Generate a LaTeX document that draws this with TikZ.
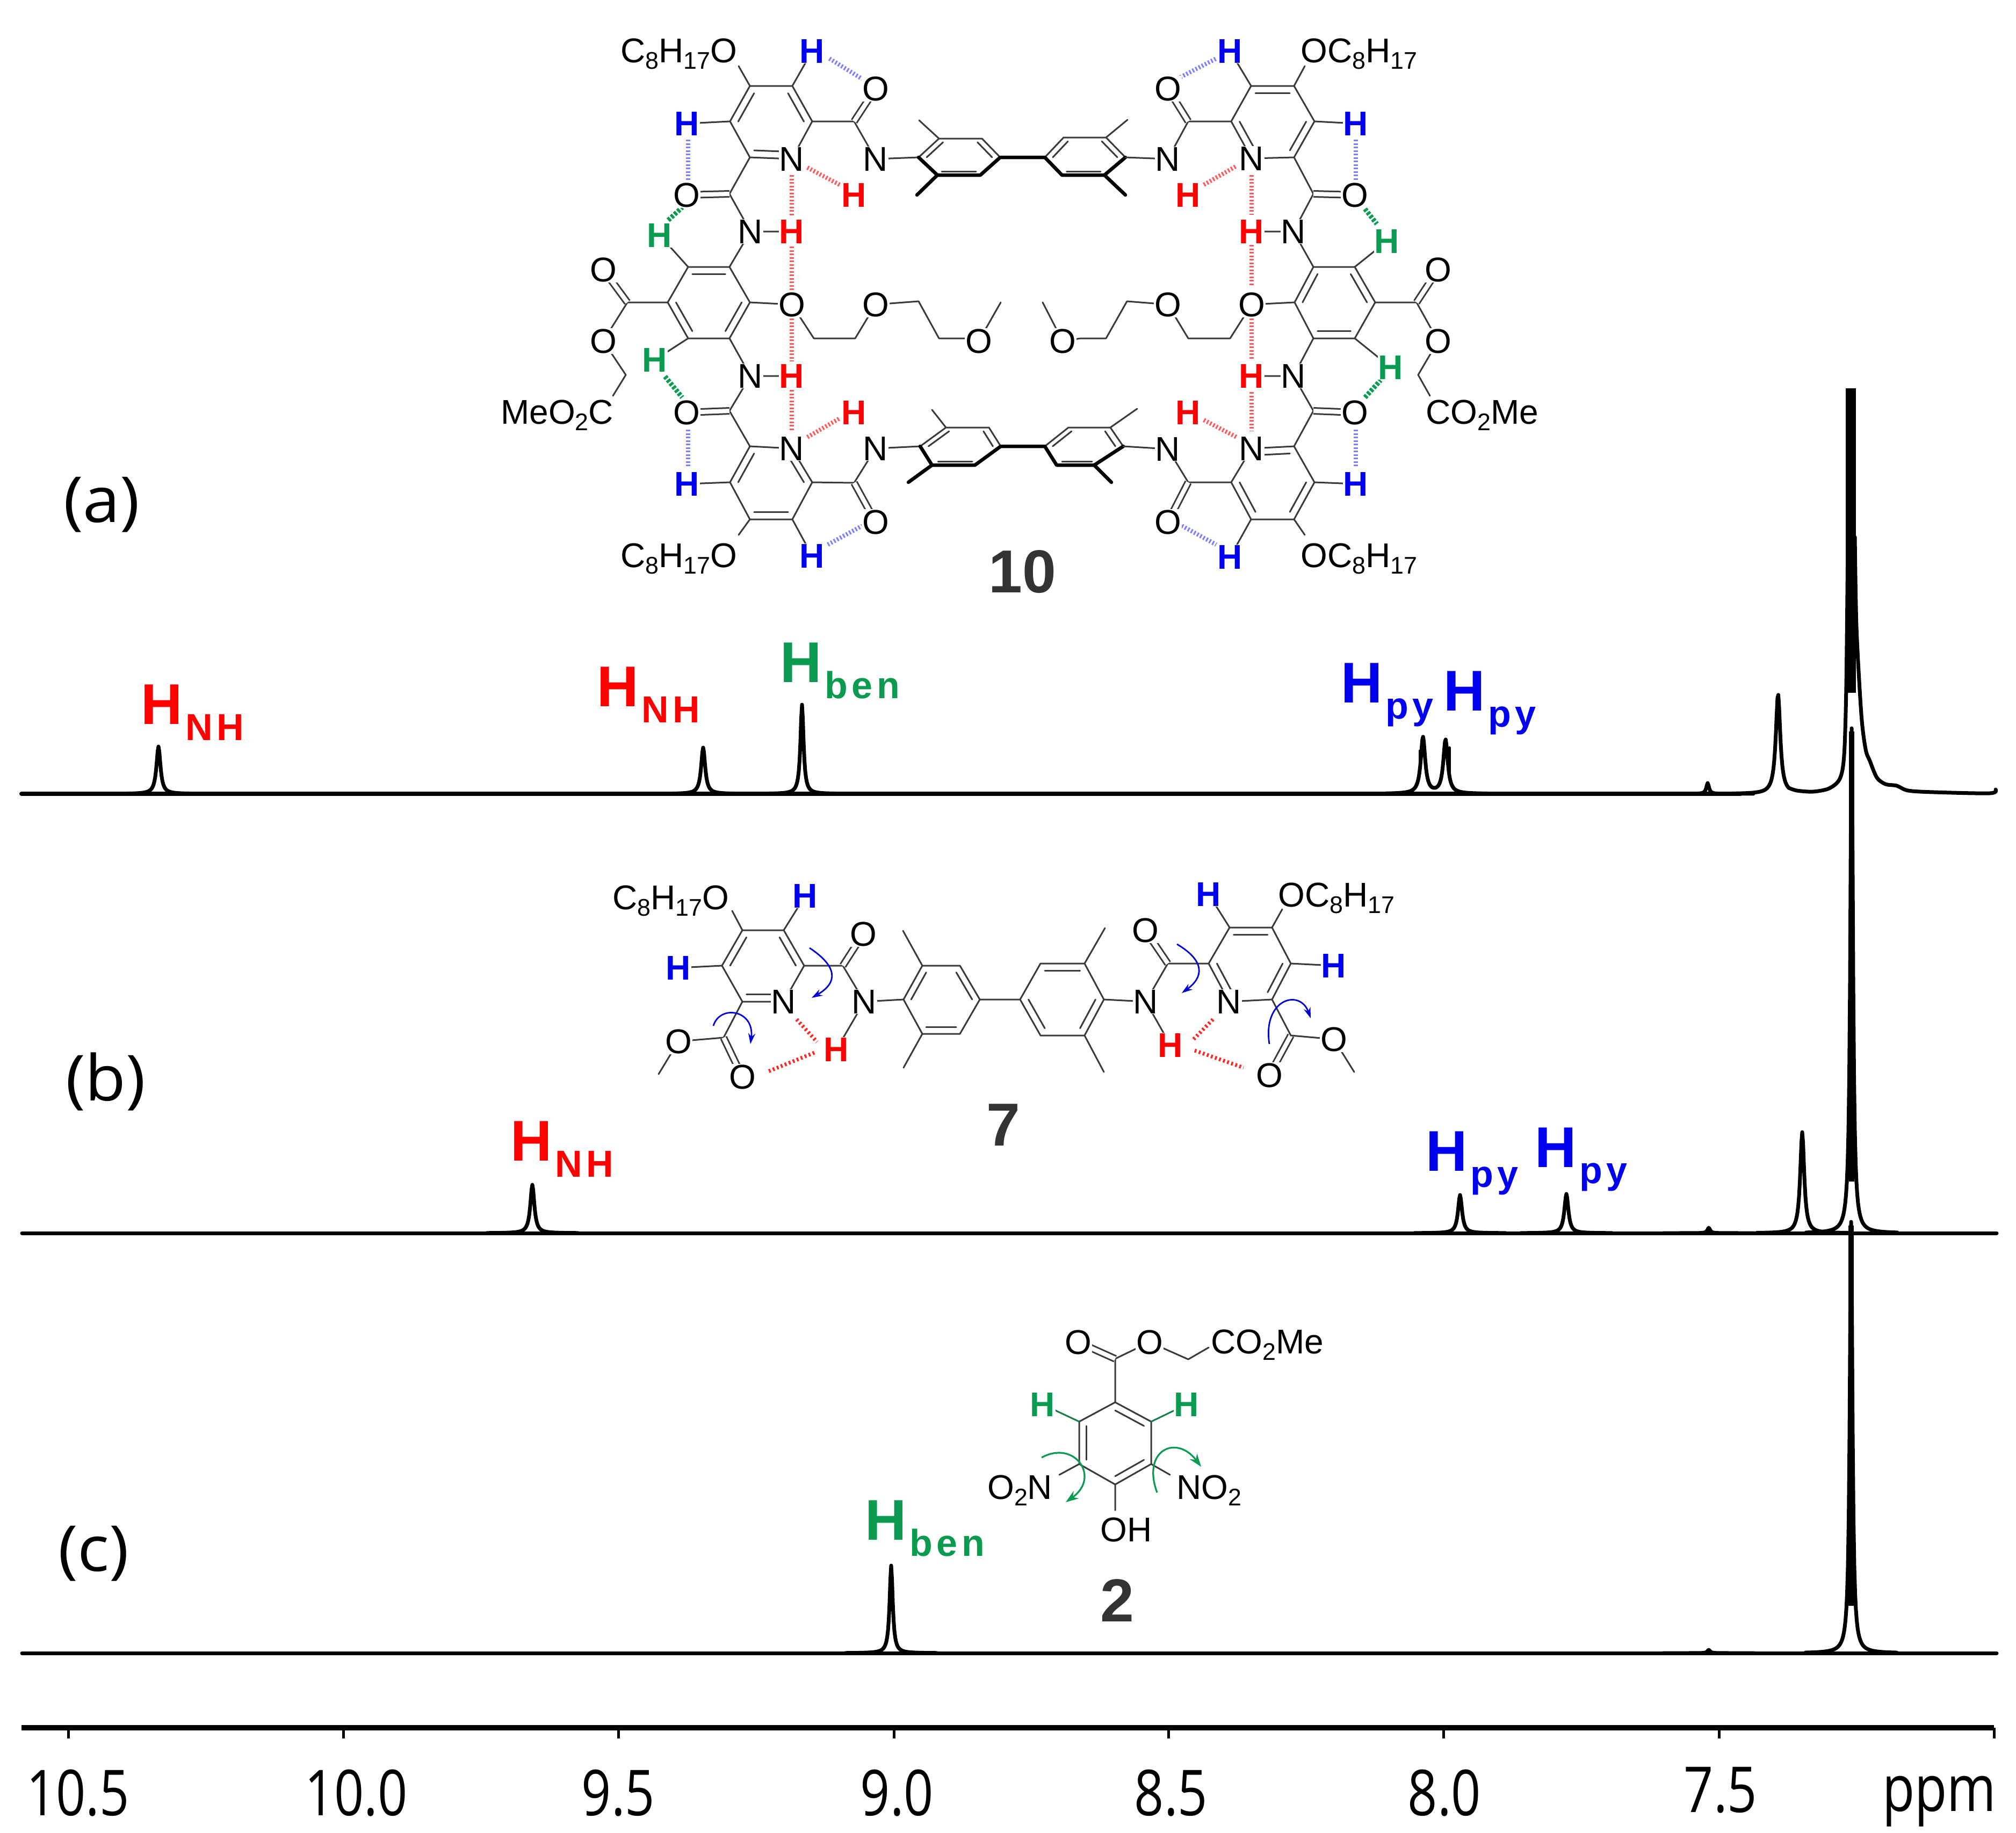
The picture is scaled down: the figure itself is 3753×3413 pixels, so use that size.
\documentclass[tikz,border=0pt]{standalone}
\usepackage{graphicx}
\usepackage{fontspec}
\setmainfont{Liberation Sans}
\newfontfamily\axf[FakeStretch=.82]{Open Sans}
\newfontfamily\plab[FakeStretch=1.05]{Open Sans}
\newfontfamily\subf[LetterSpace=11]{Liberation Sans Bold}
\usetikzlibrary{calc,arrows.meta}
\definecolor{bondc}{HTML}{3A3A3A}
\definecolor{hred}{HTML}{FF0000}
\definecolor{hblue}{HTML}{0000F0}
\definecolor{hgreen}{HTML}{0A9A50}
\definecolor{numc}{HTML}{333333}
\newcounter{nd}
\newcommand\sbs[1]{\raisebox{-.2em}{\scalebox{.7}{#1}}}
\newcommand\A[4][atom]{\stepcounter{nd}\node[#1] (n\arabic{nd}) at (#2,#3) {#4};}
\newcommand\T[3]{\stepcounter{nd}\node[chain] (n\arabic{nd}) at (#1,#2) {#3};}
\newcommand\indb[3]{\draw[bond] ($(#1)!.2!(#3)$) -- ($(#2)!.2!(#3)$);}
\newcommand\HL[4]{\stepcounter{nd}\node[hlab,text=#1] (n\arabic{nd}) at (#2,#3) {H\kern6pt\raisebox{-30pt}{\fontsize{70}{72}\subf #4}};}
\newcommand\peak[4]{\pgfmathsetmacro\pa{#1-85}\pgfmathsetmacro\pb{#1+85}%
  \draw[spec] plot[domain=\pa:\pb,samples=115] (\x,{#3-(#3-#2)/(1+(\x-#1)*(\x-#1)/(#4*#4))});}
\tikzset{
  bond/.style={draw=bondc,line width=3pt,line cap=round,line join=round},
  bold/.style={draw=black,line width=6.5pt,line cap=round,line join=round},
  dbond/.style={draw=bondc,line width=3pt,double=white,double distance=8pt},
  atom/.style={font=\fontsize{64}{70}\selectfont,inner sep=1pt,fill=white,text=black},
  chain/.style={font=\fontsize{64}{70}\selectfont,inner sep=0pt,anchor=base west,text=black},
  hb/.style={atom,font=\fontsize{64}{70}\selectfont\bfseries,text=hblue},
  hr/.style={atom,font=\fontsize{64}{70}\selectfont\bfseries,text=hred},
  hg/.style={atom,font=\fontsize{64}{70}\selectfont\bfseries,text=hgreen},
  rdash/.style={draw=red!65!white,line width=8pt,dash pattern=on 3pt off 3.5pt},
  rdash2/.style={draw=red!85!white,line width=7pt,dash pattern=on 3.5pt off 4.5pt},
  bdash/.style={draw=blue!50!white,line width=8pt,dash pattern=on 3pt off 3.5pt},
  gdash/.style={draw=hgreen,line width=9pt,dash pattern=on 5pt off 3pt},
  barr/.style={draw=blue!85!black,line width=2.8pt,-{Stealth[length=20pt,width=13pt]}},
  garr/.style={draw=hgreen,line width=3.2pt,-{Stealth[length=24pt,width=17pt]}},
  spec/.style={draw=black,line width=7pt,line join=round,line cap=round},
  hlab/.style={font=\fontsize{107}{110}\selectfont\bfseries,inner sep=0pt,anchor=base west},
  num/.style={font=\fontsize{113}{120}\selectfont\bfseries,text=numc,inner sep=0pt},
  axl/.style={font=\fontsize{118}{125}\selectfont\axf,inner sep=0pt,anchor=base},
  pl/.style={font=\fontsize{118}{125}\selectfont\plab,inner sep=0pt,anchor=base west}
}
\begin{document}
\begin{tikzpicture}[x=1pt,y=-1pt]
\useasboundingbox (0,0) rectangle (3753,3413);
\fill[white] (0,0) rectangle (3753,3413);
%% ---------------- spectra
% (a)
\draw[spec,line width=8pt] (40,1478) -- (3240,1478);
\peak{295}{1390}{1478}{4.5}
\peak{1309}{1392}{1478}{4.5}
\peak{1493}{1312}{1478}{3.5}
\peak{3179}{1458}{1478}{3}
\draw[spec] plot[domain=2580:2770,samples=141] (\x,{1478-105/(1+(\x-2649)*(\x-2649)/25)-100/(1+(\x-2691)*(\x-2691)/25)});
\draw[spec,line width=5pt] (2643,1398)--(2643,1440);
\draw[spec,line width=5pt] (2698,1392)--(2698,1440);
\draw[spec] plot[domain=3225:3330,samples=71] (\x,{1478-186/(1+(\x-3310)*(\x-3310)/25)});
\draw[spec] plot[smooth,tension=.5] coordinates {(3330,1467)(3345,1472)(3375,1474)(3405,1468)(3425,1450)(3433,1406)(3437,1276)(3440,1000)};
\fill[black] (3436,723) rectangle (3455,1290);
\draw[spec] plot[smooth,tension=.5] coordinates {(3453,1000)(3456,1168)(3465,1330)(3473,1395)(3481,1417)(3494,1448)(3510,1460)(3531,1463)(3552,1472)(3600,1475)(3704,1477)(3715,1470)};
% (b)
\draw[spec] (41,2296) -- (3717,2296);
\peak{991}{2206}{2296}{4.5}
\peak{2718}{2225}{2296}{4.5}
\peak{2916}{2223}{2296}{4.5}
\peak{3181}{2286}{2296}{3}
\peak{3355}{2108}{2296}{4.5}
\peak{3447}{1356}{2296}{3}
\fill[black] (3442,1362) rectangle (3452,2200);
% (c)
\draw[spec] (41,3078) -- (3717,3078);
\peak{1659}{2915}{3078}{3.5}
\peak{3181}{3072}{3078}{3}
\peak{3446}{2275}{3078}{3}
\fill[black] (3441,2282) rectangle (3451,2990);
%% ---------------- axis
\draw[line width=10pt] (40,3217) -- (3712,3217);
\foreach \px in {127,639,1151,1664,2175,2687,3200,3712}
  \draw[line width=5pt] (\px,3217) -- (\px,3237);
\node[axl] (t105) at (145,3380) {10.5};
\node[axl] (t100) at (663,3380) {10.0};
\node[axl] (t95) at (1151,3380) {9.5};
\node[axl] (t90) at (1670,3380) {9.0};
\node[axl] (t85) at (2180,3380) {8.5};
\node[axl] (t80) at (2689,3380) {8.0};
\node[axl] (t75) at (3203,3374) {7.5};
\node[font=\fontsize{120}{125}\selectfont\axf,inner sep=0pt,anchor=base west] (tppm) at (3504,3372) {ppm};
\node[pl] (la) at (118,972) {(a)};
\node[pl] (lb) at (122,2049) {(b)};
\node[pl] (lc) at (108,2925) {(c)};
%% ---------------- peak labels
\HL{hred}{262}{1348}{NH}
\HL{hred}{1111}{1315}{NH}
\HL{hgreen}{1452}{1270}{ben}
\HL{hblue}{2496}{1308}{py}
\HL{hblue}{2687}{1323}{py}
\HL{hred}{950}{2161}{NH}
\HL{hblue}{2654}{2180}{py}
\HL{hblue}{2857}{2173}{py}
\HL{hgreen}{1610}{2867}{ben}
%% ---------------- molecule 10, bonds
% top-left pyridine
\draw[bond] (1396,160)--(1475,160)--(1512,226)--(1474,296)--(1396,293)--(1359,226)--cycle;
\indb{1396,160}{1359,226}{1435,228}\indb{1475,160}{1512,226}{1435,228}\indb{1396,293}{1474,296}{1435,228}
\draw[bond] (1396,160)--(1375,123) (1475,160)--(1512,95) (1359,226)--(1279,230) (1396,293)--(1358,361)
  (1358,361)--(1397,431)--(1358,497) (1397,431)--(1474,431) (1512,226)--(1590,226)--(1630,296)--(1710,293);
\draw[dbond] (1358,361)--(1278,363) (1590,226)--(1630,165);
% top-left aryl
\draw[bond] (1710,293)--(1748,258)--(1828,258)--(1862,293) (1748,258)--(1711,224);
\indb{1745,326}{1825,326}{1786,292}\indb{1710,293}{1748,258}{1786,292}\indb{1828,258}{1862,293}{1786,292}
\draw[bold] (1710,293)--(1745,326)--(1825,326)--(1862,293)--(1945,293) (1745,326)--(1707,363);
% top-right aryl
\draw[bond] (2095,293)--(2059,256)--(1980,256)--(1945,293) (2059,256)--(2099,223);
\indb{1977,326}{2056,326}{2020,292}\indb{2095,293}{2059,256}{2020,292}\indb{1980,256}{1945,293}{2020,292}
\draw[bold] (1945,293)--(1977,326)--(2056,326)--(2095,293) (2056,326)--(2095,363);
% top-right pyridine
\draw[bond] (2329,160)--(2409,160)--(2447,226)--(2409,293)--(2330,295)--(2292,226)--cycle;
\indb{2329,160}{2409,160}{2370,228}\indb{2447,226}{2409,293}{2370,228}\indb{2292,226}{2330,295}{2370,228}
\draw[bond] (2329,160)--(2290,95) (2409,160)--(2429,123) (2447,226)--(2524,230) (2409,293)--(2445,361)
  (2445,361)--(2408,431)--(2445,497) (2408,431)--(2330,431) (2292,226)--(2212,226)--(2174,296)--(2095,293);
\draw[dbond] (2445,361)--(2522,363) (2212,226)--(2174,165);
% left benzene
\draw[bond] (1281,497)--(1358,497)--(1396,563)--(1358,630)--(1281,630)--(1243,563)--cycle;
\indb{1281,497}{1358,497}{1320,563}\indb{1396,563}{1358,630}{1320,563}\indb{1281,630}{1243,563}{1320,563}
\draw[bond] (1281,497)--(1228,438) (1281,630)--(1219,670) (1396,563)--(1474,567) (1358,630)--(1397,700)--(1358,765)--(1396,831) (1397,700)--(1474,700)
  (1243,563)--(1168,563)--(1123,635)--(1165,698)--(1141,737)
  (1474,567)--(1515,630)--(1592,630)--(1630,567)--(1710,561)--(1748,630)--(1796,630)--(1822,635)--(1863,563);
\draw[dbond] (1168,563)--(1123,502) (1358,765)--(1278,768);
% right benzene
\draw[bond] (2445,497)--(2522,497)--(2560,563)--(2522,630)--(2445,630)--(2410,563)--cycle;
\indb{2445,497}{2410,563}{2484,563}\indb{2522,497}{2560,563}{2484,563}\indb{2522,630}{2445,630}{2484,563}
\draw[bond] (2522,497)--(2582,449) (2522,630)--(2589,684) (2410,563)--(2330,567) (2445,630)--(2408,700)--(2445,765)--(2409,831) (2408,700)--(2330,700)
  (2560,563)--(2637,563)--(2677,635)--(2640,698)--(2662,737)
  (2330,567)--(2290,630)--(2212,630)--(2174,567)--(2098,561)--(2059,630)--(2012,630)--(1978,635)--(1941,563);
\draw[dbond] (2637,563)--(2677,502) (2445,765)--(2522,768);
% bottom-left pyridine
\draw[bond] (1396,831)--(1474,835)--(1512,898)--(1475,967)--(1396,967)--(1359,898)--cycle;
\indb{1396,831}{1359,898}{1435,898}\indb{1475,967}{1396,967}{1435,898}\indb{1474,835}{1512,898}{1435,898}
\draw[bond] (1396,967)--(1375,996) (1475,967)--(1512,1035) (1359,898)--(1279,901)
  (1512,898)--(1590,899)--(1630,835)--(1713,831);
\draw[dbond] (1590,899)--(1630,972);
% bottom-left aryl
\draw[bond] (1713,831)--(1761,796)--(1841,796)--(1863,831) (1761,796)--(1735,763);
\indb{1735,866}{1815,866}{1790,831}\indb{1713,831}{1761,796}{1790,831}\indb{1841,796}{1863,831}{1790,831}
\draw[bold] (1713,831)--(1735,866)--(1815,866)--(1863,831)--(1945,831) (1735,866)--(1691,898);
% bottom-right aryl
\draw[bond] (1945,831)--(1989,796)--(2067,796)--(2091,831) (2067,796)--(2117,761);
\indb{1967,866}{2037,866}{2018,831}\indb{2091,831}{2067,796}{2018,831}\indb{1989,796}{1945,831}{2018,831}
\draw[bold] (1945,831)--(1967,866)--(2037,866)--(2091,831) (2037,866)--(2069,898);
% bottom-right pyridine
\draw[bond] (2330,835)--(2409,831)--(2447,898)--(2409,967)--(2329,967)--(2292,898)--cycle;
\indb{2330,835}{2409,831}{2370,898}\indb{2292,898}{2329,967}{2370,898}\indb{2447,898}{2409,967}{2370,898}
\draw[bond] (2409,967)--(2429,996) (2329,967)--(2290,1037) (2447,898)--(2524,901)
  (2292,898)--(2212,898)--(2174,836)--(2091,831);
\draw[dbond] (2212,898)--(2174,972);
%% hydrogen bonds of 10
\draw[rdash] (1503,312)--(1563,344);
\draw[rdash] (1474,326)--(1474,403);
\draw[rdash] (1474,459)--(1474,544);
\draw[rdash] (1474,593)--(1474,673);
\draw[rdash] (1474,726)--(1474,803);
\draw[rdash] (1503,814)--(1563,779);
\draw[rdash] (2241,344)--(2302,309);
\draw[rdash] (2330,326)--(2330,400);
\draw[rdash] (2330,456)--(2330,533);
\draw[rdash] (2330,593)--(2330,670);
\draw[rdash] (2330,730)--(2330,803);
\draw[rdash] (2241,782)--(2302,814);
\draw[bdash] (1544,109)--(1605,147);
\draw[bdash] (1281,260)--(1281,337);
\draw[bdash] (1281,800)--(1281,870);
\draw[bdash] (1541,1014)--(1605,979);
\draw[bdash] (2197,144)--(2264,109);
\draw[bdash] (2524,260)--(2524,337);
\draw[bdash] (2524,800)--(2524,870);
\draw[bdash] (2200,979)--(2264,1014);
\draw[gdash] (1244,410)--(1270,386);
\draw[gdash] (1238,701)--(1270,740);
\draw[gdash] (2541,389)--(2563,417);
\draw[gdash] (2541,740)--(2570,708);
%% labels of 10
\T{1155}{116}{C\sbs{8}H\sbs{17}O}
\T{2421}{116}{OC\sbs{8}H\sbs{17}}
\T{1155}{1056}{C\sbs{8}H\sbs{17}O}
\T{2421}{1056}{OC\sbs{8}H\sbs{17}}
\T{932}{789}{MeO\sbs{2}C}
\T{2654}{789}{CO\sbs{2}Me}
\A[hb]{1512}{95}{H}\A[hb]{1279}{230}{H}\A[hb]{1279}{901}{H}\A[hb]{1512}{1035}{H}
\A[hb]{2290}{95}{H}\A[hb]{2524}{230}{H}\A[hb]{2524}{901}{H}\A[hb]{2290}{1037}{H}
\A[hr]{1590}{363}{H}\A[hr]{1474}{431}{H}\A[hr]{1474}{700}{H}\A[hr]{1590}{768}{H}
\A[hr]{2212}{363}{H}\A[hr]{2330}{431}{H}\A[hr]{2330}{700}{H}\A[hr]{2212}{768}{H}
\A[hg]{1228}{438}{H}\A[hg]{1219}{670}{H}\A[hg]{2582}{449}{H}\A[hg]{2589}{684}{H}
\A{1630}{165}{O}\A{1278}{363}{O}\A{1278}{768}{O}\A{1630}{972}{O}
\A{2174}{165}{O}\A{2522}{363}{O}\A{2522}{768}{O}\A{2174}{972}{O}
\A{1123}{502}{O}\A{1123}{635}{O}\A{2677}{502}{O}\A{2677}{635}{O}
\A{1474}{567}{O}\A{1630}{567}{O}\A{1822}{635}{O}\A{2330}{567}{O}\A{2174}{567}{O}\A{1978}{635}{O}
\A{1474}{296}{N}\A{1630}{296}{N}\A{1397}{431}{N}\A{1397}{700}{N}\A{1474}{835}{N}\A{1630}{835}{N}
\A{2330}{295}{N}\A{2174}{296}{N}\A{2408}{431}{N}\A{2408}{700}{N}\A{2330}{835}{N}\A{2174}{836}{N}
\node[num] (mol10) at (1903,1065) {10};
%% ---------------- molecule 7
\draw[bond] (1382,1732)--(1459,1732)--(1497,1798)--(1459,1865)--(1382,1865)--(1344,1798)--cycle;
\indb{1382,1732}{1344,1798}{1420,1798}\indb{1459,1732}{1497,1798}{1420,1798}\indb{1382,1865}{1459,1865}{1420,1798}
\draw[bond] (1382,1732)--(1363,1696) (1459,1732)--(1499,1668) (1344,1798)--(1263,1802) (1497,1798)--(1569,1798)--(1609,1865)--(1682,1861) (1609,1865)--(1557,1954)
  (1382,1865)--(1347,1932)--(1263,1939)--(1226,2000);
\draw[dbond] (1569,1798)--(1607,1739) (1347,1932)--(1382,2005);
\draw[bond] (1682,1861)--(1717,1798)--(1787,1798)--(1824,1861)--(1787,1925)--(1717,1925)--cycle;
\indb{1682,1861}{1717,1798}{1753,1861}\indb{1787,1798}{1824,1861}{1753,1861}\indb{1787,1925}{1717,1925}{1753,1861}
\draw[bond] (1717,1798)--(1681,1733) (1717,1925)--(1682,1988) (1824,1861)--(1899,1861);
\draw[bond] (1899,1861)--(1937,1794)--(2019,1794)--(2055,1861)--(2019,1928)--(1937,1928)--cycle;
\indb{1937,1794}{2019,1794}{1977,1861}\indb{1899,1861}{1937,1928}{1977,1861}\indb{2055,1861}{2019,1928}{1977,1861}
\draw[bond] (2019,1794)--(2057,1728) (2019,1928)--(2055,1996) (2055,1861)--(2133,1865)--(2174,1794)--(2250,1794) (2133,1865)--(2179,1946);
\draw[dbond] (2174,1794)--(2132,1732) (2403,1928)--(2363,2002);
\draw[bond] (2250,1794)--(2289,1727)--(2368,1727)--(2403,1794)--(2368,1861)--(2288,1865)--cycle;
\indb{2289,1727}{2368,1727}{2327,1794}\indb{2403,1794}{2368,1861}{2327,1794}\indb{2250,1794}{2288,1865}{2327,1794}
\draw[bond] (2289,1727)--(2250,1665) (2368,1727)--(2387,1693) (2403,1794)--(2483,1798) (2368,1861)--(2403,1928)--(2483,1935)--(2521,1996);
\draw[rdash2] (1483,1898)--(1521,1940);
\draw[rdash2] (1516,1960)--(1430,1995);
\draw[rdash2] (2258,1898)--(2220,1937);
\draw[rdash2] (2224,1956)--(2315,1988);
\T{1140}{1693}{C\sbs{8}H\sbs{17}O}
\T{2379}{1688}{OC\sbs{8}H\sbs{17}}
\A[hb]{1499}{1668}{H}\A[hb]{1263}{1802}{H}\A[hb]{2250}{1665}{H}\A[hb]{2483}{1798}{H}
\A[hr]{1557}{1954}{H}\A[hr]{2179}{1946}{H}
\A{1607}{1739}{O}\A{1263}{1939}{O}\A{1382}{2005}{O}\A{2132}{1732}{O}\A{2483}{1935}{O}\A{2363}{2002}{O}
\A{1459}{1865}{N}\A{1609}{1865}{N}\A{2133}{1865}{N}\A{2288}{1865}{N}
\draw[barr] (1507,1765) .. controls (1560,1800) and (1560,1830) .. (1511,1858);
\draw[barr] (1328,1910) .. controls (1340,1870) and (1405,1880) .. (1397,1944);
\draw[barr] (2191,1758) .. controls (2245,1790) and (2240,1820) .. (2200,1849);
\draw[barr] (2363,1944) .. controls (2350,1860) and (2420,1840) .. (2440,1896);
\node[num] (mol7) at (1868,2095) {7};
%% ---------------- molecule 2
\draw[bond] (2076,2611)--(2143,2647)--(2143,2726)--(2076,2764)--(2009,2726)--(2009,2647)--cycle;
\indb{2076,2611}{2143,2647}{2076,2687}\indb{2143,2726}{2076,2764}{2076,2687}\indb{2009,2726}{2009,2647}{2076,2687}
\draw[bond] (2076,2611)--(2076,2530)--(2140,2499)--(2212,2531)--(2250,2509) (2009,2726)--(1972,2746) (2143,2726)--(2178,2746) (2076,2764)--(2076,2812);
\draw[dbond] (2076,2530)--(2007,2499);
\draw[bond,draw=hgreen!70!bondc] (2009,2647)--(1941,2615) (2143,2647)--(2209,2615);
\A{2007}{2499}{O}\A{2140}{2499}{O}
\T{2254}{2520}{CO\sbs{2}Me}
\T{1838}{2791}{O\sbs{2}N}
\T{2190}{2791}{NO\sbs{2}}
\T{2048}{2870}{OH}
\A[hg]{1941}{2615}{H}\A[hg]{2209}{2615}{H}
\draw[garr] (1939,2714) .. controls (2000,2680) and (2050,2750) .. (1984,2797);
\draw[garr] (2154,2779) .. controls (2125,2700) and (2190,2670) .. (2236,2731);
\node[num] (mol2) at (2080,2980) {2};
\end{tikzpicture}
\end{document}
